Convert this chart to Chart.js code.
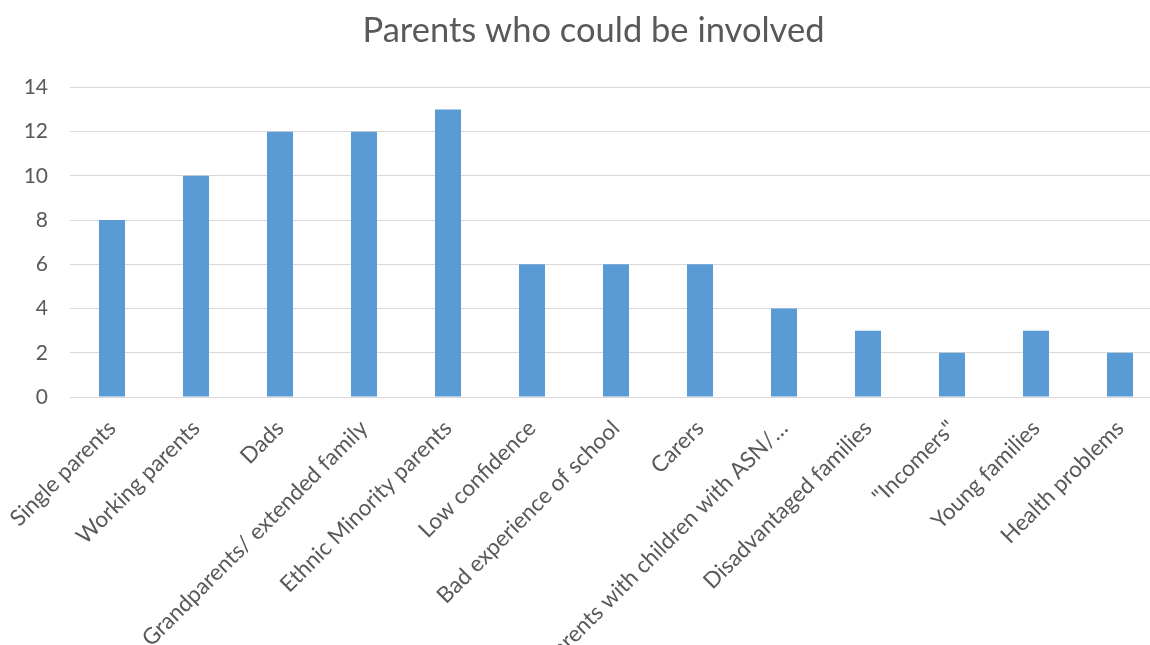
<!DOCTYPE html>
<html>
<head>
<meta charset="utf-8">
<script src="https://cdn.jsdelivr.net/npm/chart.js@4.4.1/dist/chart.umd.min.js"></script>
<style>
  html, body { margin: 0; padding: 0; background: #ffffff; overflow: hidden; }
  #wrap { position: relative; width: 1182px; height: 645px; }
</style>
</head>
<body>
<div id="wrap"><canvas id="c"></canvas></div>
<script>
const chartTitle = "Parents who could be involved";
const categories = [
  "Single parents",
  "Working parents",
  "Dads",
  "Grandparents/ extended family",
  "Ethnic Minority parents",
  "Low confidence",
  "Bad experience of school",
  "Carers",
  "Parents with children with ASN/\u2026",
  "Disadvantaged families",
  "\"Incomers\"",
  "Young families",
  "Health problems"
];
const values = [8, 10, 12, 12, 13, 6, 6, 6, 4, 3, 2, 3, 2];
const yTicks = [0, 2, 4, 6, 8, 10, 12, 14];

const FONT = "Lato, 'Liberation Sans', sans-serif";
const TEXT = "#595959";
const GRID = "#d9d9d9";

new Chart(document.getElementById('c'), {
  type: 'bar',
  data: {
    labels: categories,
    datasets: [{
      data: values,
      backgroundColor: '#5b9bd5',
      borderWidth: 0,
      categoryPercentage: 1.0,
      barPercentage: 0.31
    }]
  },
  options: {
    responsive: true,
    maintainAspectRatio: false,
    animation: false,
    layout: { padding: { left: 25, right: 20, top: 6, bottom: 0 } },
    plugins: {
      legend: { display: false },
      tooltip: { enabled: false },
      title: {
        display: true,
        text: chartTitle,
        color: TEXT,
        font: { family: FONT, size: 34.5, weight: 'normal' },
        padding: { top: 4, bottom: 36 }
      }
    },
    scales: {
      x: {
        grid: { display: false, drawTicks: false },
        border: { display: true, color: GRID, width: 1 },
        afterFit: (axis) => { axis.height = 248; axis.paddingLeft = 0; axis.paddingRight = 0; },
        ticks: {
          color: TEXT,
          font: { family: FONT, size: 22.5 },
          maxRotation: 45,
          minRotation: 45,
          autoSkip: false,
          padding: 18
        }
      },
      y: {
        min: 0,
        max: 14,
        afterBuildTicks: (axis) => { axis.ticks = yTicks.map(v => ({ value: v })); },
        afterFit: (axis) => { axis.width = 45; },
        grid: { color: GRID, lineWidth: 1, drawTicks: false },
        border: { display: false },
        ticks: {
          color: TEXT,
          font: { family: FONT, size: 21 },
          padding: 22
        }
      }
    }
  }
});
</script>
</body>
</html>
